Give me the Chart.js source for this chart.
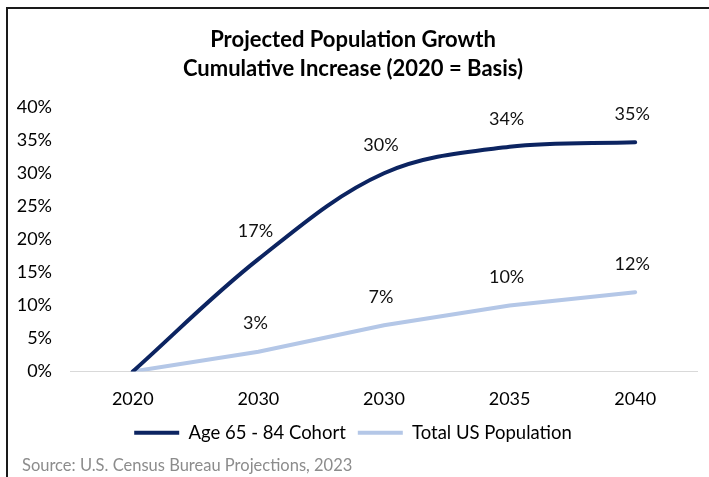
<!DOCTYPE html>
<html>
<head>
<meta charset="utf-8">
<script src="https://cdn.jsdelivr.net/npm/chart.js@4/dist/chart.umd.min.js"></script>
<style>
  html, body { margin: 0; padding: 0; background: #fff; }
  #wrap { position: relative; width: 709px; height: 477px; overflow: hidden; }
  #frame { position: absolute; left: 6px; top: 7px; right: -10px; bottom: -10px;
           border-top: 2px solid #1a1a1a; border-left: 2px solid #1a1a1a; }
  #chart { position: absolute; left: 0; top: 0; }
  #source { position: absolute; left: 22px; top: 455px; font: 16.5px Lato, sans-serif; color: #8c8c8c; }
</style>
</head>
<body>
<div id="wrap">
  <div id="frame"></div>
  <canvas id="chart" width="709" height="477"></canvas>
  <div id="source">Source: U.S. Census Bureau Projections, 2023</div>
</div>
<script>
const years = ['2020', '2030', '2030', '2035', '2040'];
const cohort = [0, 0.17, 0.30, 0.34, 0.347];
const totalPop = [0, 0.03, 0.07, 0.10, 0.12];
const seriesNames = ['Age 65 - 84 Cohort', 'Total US Population'];
const titleLines = ['Projected Population Growth', 'Cumulative Increase (2020 = Basis)'];

const FONT = 'Lato, sans-serif';
const pct = v => Math.round(v * 100) + '%';

// labels above each point
const pointLabels = {
  id: 'pointLabels',
  afterDatasetsDraw(chart) {
    const ctx = chart.ctx;
    ctx.save();
    ctx.font = '18px ' + FONT;
    ctx.fillStyle = '#111';
    ctx.textAlign = 'center';
    ctx.textBaseline = 'middle';
    chart.data.datasets.forEach((ds, i) => {
      chart.getDatasetMeta(i).data.forEach((pt, j) => {
        if (j === 0) return;
        ctx.fillText(pct(ds.data[j]), pt.x - 3, pt.y - 28);
      });
    });
    ctx.restore();
  }
};

new Chart(document.getElementById('chart'), {
  type: 'line',
  data: {
    labels: years,
    datasets: [{
      label: seriesNames[0],
      data: cohort,
      borderColor: '#0c2461',
      backgroundColor: '#0c2461',
      borderWidth: 4,
      tension: 0.35,
      pointRadius: 0,
      borderCapStyle: 'round'
    }, {
      label: seriesNames[1],
      data: totalPop,
      borderColor: '#b4c7e7',
      backgroundColor: '#b4c7e7',
      borderWidth: 4,
      tension: 0,
      pointRadius: 0,
      borderCapStyle: 'round'
    }]
  },
  options: {
    responsive: false,
    animation: false,
    layout: { padding: { left: 8, right: 11, top: 12, bottom: 25 } },
    plugins: {
      title: {
        display: true,
        text: titleLines,
        color: '#000',
        font: { family: FONT, size: 22, weight: 'bold', lineHeight: 1.3 },
        padding: { top: 14, bottom: 24 }
      },
      legend: {
        position: 'bottom',
        labels: {
          color: '#000',
          font: { family: FONT, size: 18.5 },
          boxWidth: 45,
          boxHeight: 4,
          padding: 12,
          generateLabels(chart) {
            return chart.data.datasets.map((ds, i) => ({
              text: ds.label,
              fillStyle: ds.borderColor,
              strokeStyle: ds.borderColor,
              lineWidth: 0,
              datasetIndex: i
            }));
          }
        }
      },
      tooltip: { enabled: false }
    },
    scales: {
      x: {
        offset: true,
        afterFit(scale) { scale.height = 40; },
        grid: { display: false, drawTicks: false },
        border: { display: false },
        ticks: { color: '#000', font: { family: FONT, size: 18 }, padding: 17 }
      },
      y: {
        min: 0,
        max: 0.4,
        afterFit(scale) { scale.width = 62; },
        grid: {
          drawTicks: false,
          color: c => c.tick && c.tick.value === 0 ? '#d9d9d9' : 'transparent'
        },
        border: { display: false },
        ticks: {
          stepSize: 0.05,
          color: '#000',
          font: { family: FONT, size: 18 },
          padding: 18,
          callback: v => pct(v)
        }
      }
    }
  },
  plugins: [pointLabels]
});
</script>
</body>
</html>
